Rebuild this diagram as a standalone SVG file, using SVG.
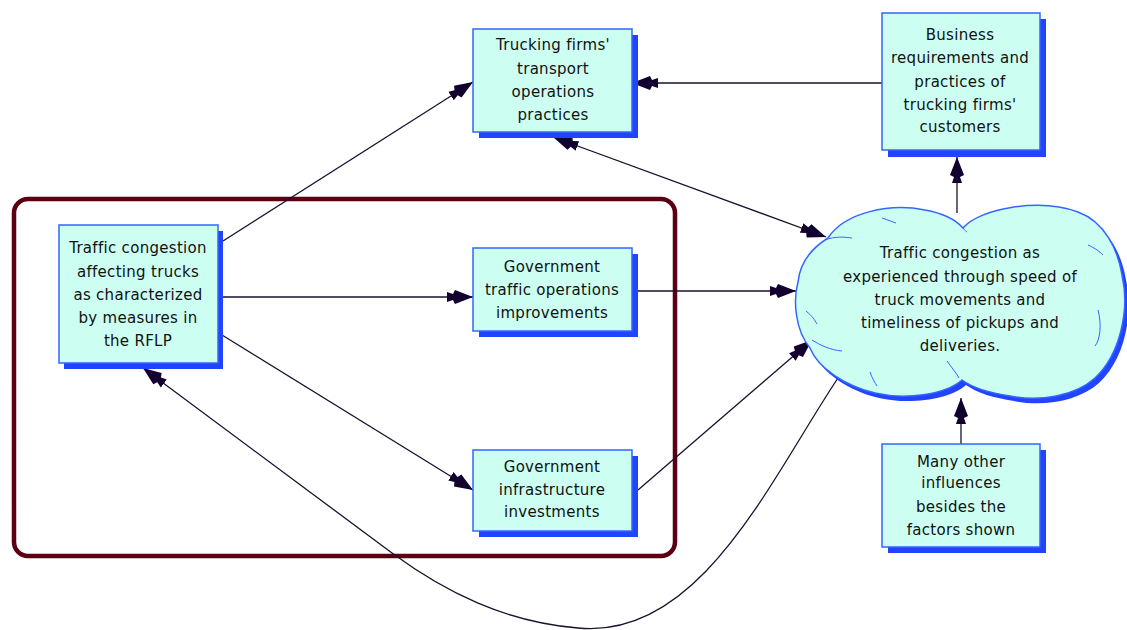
<svg xmlns="http://www.w3.org/2000/svg" width="1127" height="630" viewBox="0 0 1127 630">
<defs>
<style>
.sh{fill:#2244ff}
.bx{fill:#ccfff2;stroke:#3366ff;stroke-width:1.5}
.t{font-family:"DejaVu Sans",Verdana,sans-serif;font-size:15px;letter-spacing:0.3px;fill:#111;text-anchor:middle}
.c{fill:none;stroke:#1a1030;stroke-width:1.3}
</style>
<marker id="ah" markerUnits="userSpaceOnUse" markerWidth="28" markerHeight="16" refX="26" refY="8" orient="auto-start-reverse" viewBox="0 0 28 16">
<path d="M0,3 L6,5 L8,1 L26,8 L8,15 L6,11 L0,13 Z" fill="#12002e"/>
</marker>
</defs>
<rect width="1127" height="630" fill="#fff"/>
<rect x="14" y="199" width="661" height="357" rx="14" fill="none" stroke="#5a0010" stroke-width="4.5"/>
<g id="connectors">
<line class="c" x1="223" y1="241" x2="473" y2="82" marker-end="url(#ah)"/>
<line class="c" x1="218" y1="297" x2="473" y2="297" marker-end="url(#ah)"/>
<line class="c" x1="222" y1="335" x2="473" y2="490" marker-end="url(#ah)"/>
<line class="c" x1="638" y1="490" x2="812" y2="340" marker-end="url(#ah)"/>
<line class="c" x1="632" y1="291" x2="796" y2="291" marker-end="url(#ah)"/>
<line class="c" x1="553" y1="137" x2="826" y2="237" marker-start="url(#ah)" marker-end="url(#ah)"/>
<line class="c" x1="882" y1="83" x2="632" y2="83" marker-end="url(#ah)"/>
<line class="c" x1="957" y1="213" x2="957" y2="157" marker-end="url(#ah)"/>
<line class="c" x1="961" y1="444" x2="961" y2="398" marker-end="url(#ah)"/>
<path class="c" d="M838,378 C770,480 700,640 578,628 C505,622 445,592 392,553 L143,368" marker-end="url(#ah)"/>
</g>
<g id="n1">
<rect class="sh" x="64" y="231" width="159" height="138"/>
<rect class="bx" x="59" y="225" width="159" height="138"/>
<text class="t" x="138" y="253">Traffic congestion</text>
<text class="t" x="138" y="277">affecting trucks</text>
<text class="t" x="138" y="300">as characterized</text>
<text class="t" x="138" y="323">by measures in</text>
<text class="t" x="138" y="346">the RFLP</text>
</g>
<g id="n2">
<rect class="sh" x="479" y="35" width="159" height="103"/>
<rect class="bx" x="473" y="29" width="159" height="103"/>
<text class="t" x="553" y="50">Trucking firms'</text>
<text class="t" x="553" y="74">transport</text>
<text class="t" x="553" y="97">operations</text>
<text class="t" x="553" y="120">practices</text>
</g>
<g id="n3">
<rect class="sh" x="888" y="19" width="158" height="138"/>
<rect class="bx" x="882" y="13" width="158" height="137"/>
<text class="t" x="960" y="40">Business</text>
<text class="t" x="960" y="63">requirements and</text>
<text class="t" x="960" y="87">practices of</text>
<text class="t" x="960" y="110">trucking firms'</text>
<text class="t" x="960" y="132">customers</text>
</g>
<g id="n4">
<rect class="sh" x="479" y="254" width="159" height="83"/>
<rect class="bx" x="473" y="248" width="159" height="83"/>
<text class="t" x="552" y="272">Government</text>
<text class="t" x="552" y="295">traffic operations</text>
<text class="t" x="552" y="318">improvements</text>
</g>
<g id="n5">
<rect class="sh" x="479" y="456" width="159" height="81"/>
<rect class="bx" x="473" y="450" width="159" height="81"/>
<text class="t" x="552" y="472">Government</text>
<text class="t" x="552" y="495">infrastructure</text>
<text class="t" x="552" y="517">investments</text>
</g>
<g id="n6">
<rect class="sh" x="888" y="450" width="158" height="103"/>
<rect class="bx" x="882" y="444" width="158" height="103"/>
<text class="t" x="961" y="467">Many other</text>
<text class="t" x="961" y="488">influences</text>
<text class="t" x="961" y="512">besides the</text>
<text class="t" x="961" y="535">factors shown</text>
</g>
<g id="cloud">
<path class="sh" transform="translate(4,5)" d="M828,238 C845,212 890,203 925,210 C942,213 955,219 963,228 C980,208 1040,198 1078,212 C1105,222 1118,250 1122,275 C1130,310 1120,355 1095,378 C1075,396 1040,402 1010,396 C990,393 973,388 962,380 C945,395 905,400 875,393 C845,386 818,368 810,348 C795,330 793,300 798,282 C800,262 812,248 828,238 Z"/>
<path class="bx" d="M828,238 C845,212 890,203 925,210 C942,213 955,219 963,228 C980,208 1040,198 1078,212 C1105,222 1118,250 1122,275 C1130,310 1120,355 1095,378 C1075,396 1040,402 1010,396 C990,393 973,388 962,380 C945,395 905,400 875,393 C845,386 818,368 810,348 C795,330 793,300 798,282 C800,262 812,248 828,238 Z"/>
<path d="M825,240 C835,236 845,237 852,238 M882,218 C888,220 893,222 896,223 M963,228 C965,230 966,232 967,232 M1088,245 C1095,248 1100,252 1103,255 M806,311 C812,316 815,320 817,324 M812,340 C820,345 830,350 842,351 M947,361 C952,368 957,374 959,378 M870,372 C872,378 875,383 877,386 M1098,310 C1102,325 1100,340 1095,346" fill="none" stroke="#3366ff" stroke-width="1"/>
<text class="t" x="960" y="258">Traffic congestion as</text>
<text class="t" x="960" y="282">experienced through speed of</text>
<text class="t" x="960" y="305">truck movements and</text>
<text class="t" x="960" y="328">timeliness of pickups and</text>
<text class="t" x="960" y="351">deliveries.</text>
</g>
</svg>
